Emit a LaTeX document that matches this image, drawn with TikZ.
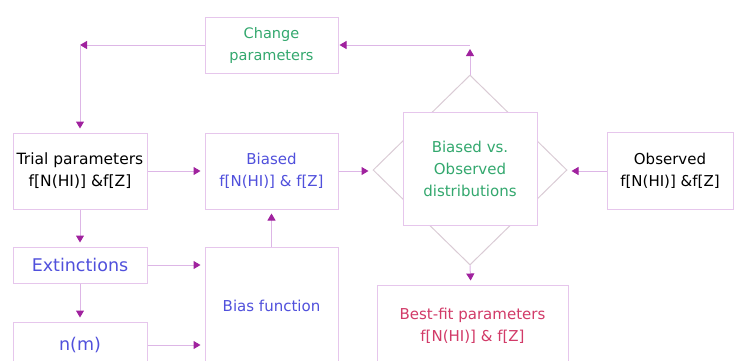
\documentclass[tikz,border=0pt]{standalone}
\usepackage{fontspec}
\setmainfont{DejaVu Sans}
\usetikzlibrary{positioning,arrows.meta,shapes.geometric}
\definecolor{boxline}{HTML}{E6C6EC}
\definecolor{conline}{HTML}{DDB6E6}
\definecolor{tipc}{HTML}{A0229E}
\definecolor{diaml}{HTML}{DACBD5}
\definecolor{txtgreen}{HTML}{33A86E}
\definecolor{txtblue}{HTML}{5050DC}
\definecolor{txtred}{HTML}{D23A68}
\tikzset{
  box/.style  ={draw=boxline, line width=1pt, fill=white, align=center,
                font=\fontsize{15}{22}\selectfont, inner sep=2pt},
  narrow/.style={box, minimum width=134pt},
  wide/.style ={box, minimum width=133pt},
  dia/.style  ={diamond, draw=diaml, line width=1pt, inner sep=0pt},
  fl/.style   ={-{Triangle[length=7pt,width=8pt,color=tipc]}, draw=conline,
                line width=1pt, shorten >=4pt}
}

\begin{document}
\begin{tikzpicture}[x=1pt,y=-1pt]
  \useasboundingbox (0,0) rectangle (736,360);
  \node[wide, text=txtgreen, minimum height=56pt, font=\fontsize{14.5}{22}\selectfont](chg) at (271.5,45){Change\\parameters};
  \node[narrow, minimum height=76pt, font=\fontsize{15.5}{22}\selectfont](trial) at (80,171){Trial parameters\\f[N(HI)] \&f[Z]};
  \node[wide, text=txtblue, minimum height=76pt](biased) at (271.5,171){Biased\\f[N(HI)] \& f[Z]};
  \node[narrow, text=txtblue, minimum height=36pt, font=\fontsize{17.5}{20}\selectfont](ext) at (80,265){Extinctions};
  \node[narrow, text=txtblue, minimum height=46pt, font=\fontsize{17.5}{20}\selectfont](nm) at (80,345){n(m)};
  \node[wide, text=txtblue, minimum height=118pt](biasf) at (271.5,306){Bias function};

  % comparison
  \node[dia, minimum width=194pt, minimum height=190pt](dia) at (470,170){};
  \node[narrow, text=txtgreen, minimum height=113pt](cmp) at (470,168.5){Biased vs.\\Observed\\distributions};
  \node[box, minimum width=126pt, minimum height=77pt](obs) at (670,171){Observed\\f[N(HI)] \&f[Z]};
  \node[box, text=txtred, minimum width=191pt, minimum height=82pt](best) at (472.5,326){Best-fit parameters\\f[N(HI)] \& f[Z]};

  \coordinate (tr) at (dia.north |- chg.east);
  \coordinate (tl) at (trial.north |- chg.west);

  \draw[fl](trial)--(trial -| biased.west);
  \draw[fl](biased)--(biased -| dia.west);
  \draw[fl](obs)--(obs -| dia.east);
  \draw[fl](dia.south)--(best);
  \draw[fl](dia.north)--(tr);
  \draw[fl, shorten >=1pt](tr)--(chg);
  \draw[fl, shorten >=0pt](chg)--(tl);
  \draw[fl](tl)--(trial);
  \draw[fl](trial)--(ext);
  \draw[fl](ext)--(nm);
  \draw[fl](ext.east)--(ext.east -| biasf.west);
  \draw[fl](nm.east)--(nm.east -| biasf.west);
  \draw[fl](biasf)--(biased);
\end{tikzpicture}
\end{document}
